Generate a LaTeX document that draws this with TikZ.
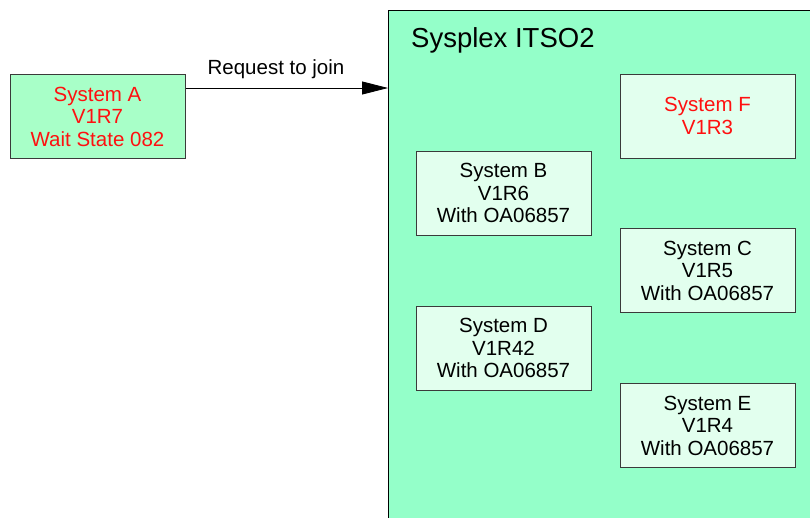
\documentclass[tikz,border=0pt]{standalone}
\usepackage{fontspec}
\setmainfont{Liberation Sans}
\usetikzlibrary{arrows.meta}
\definecolor{plexfill}{HTML}{94FFC9}
\definecolor{afill}{HTML}{A8FFC8}
\definecolor{sysfill}{HTML}{E2FFEE}
\definecolor{edge}{HTML}{3A3A3A}
\definecolor{redtxt}{HTML}{FF1010}
\begin{document}
\begin{tikzpicture}[x=1pt,y=-1pt,
  sysbox/.style={draw=edge, line width=1pt, fill=sysfill, minimum width=175pt, minimum height=84pt,
    align=center, inner sep=0pt, font=\fontsize{20.5}{22.5}\selectfont},
  redtext/.style={text=redtxt}]
\useasboundingbox (0,0) rectangle (810,517);
\fill[plexfill] (388,10) rectangle (815,525);
\draw[line width=1pt, black] (815,10) -- (388,10) -- (388,525);
\node[anchor=base west, inner sep=0pt, font=\fontsize{27.5}{30}\selectfont] (title) at (411,47) {Sysplex ITSO2};
\node[sysbox, fill=afill, redtext] (a) at (97.5,116.5) {System A\\V1R7\\Wait State 082};
\node[sysbox, redtext] (f) at (707.5,116) {System F\\V1R3};
\node[sysbox] (b) at (503.5,193) {System B\\V1R6\\With OA06857};
\node[sysbox] (c) at (707.5,270.5) {System C\\V1R5\\With OA06857};
\node[sysbox] (d) at (503.5,348) {System D\\V1R42\\With OA06857};
\node[sysbox] (e) at (707.5,425.5) {System E\\V1R4\\With OA06857};
\coordinate (join) at (388,88);
\draw[line width=0.8pt, -{Triangle[length=26pt,width=13pt]}] (a.east |- join) -- (join);
\node[inner sep=0pt, font=\fontsize{20.5}{22}\selectfont] (lbl) at (276,69) {Request to join};
\end{tikzpicture}
\end{document}
